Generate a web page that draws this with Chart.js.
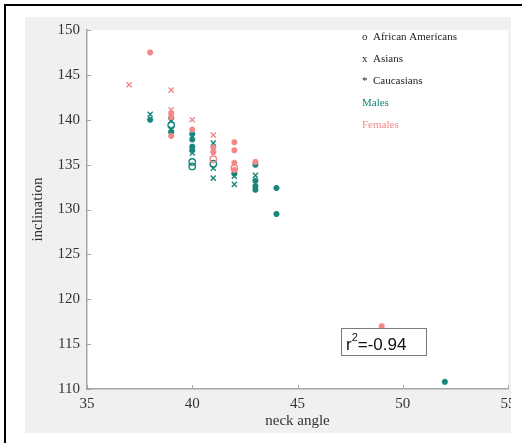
<!DOCTYPE html>
<html>
<head>
<meta charset="utf-8">
<script src="https://cdn.jsdelivr.net/npm/chart.js@4"></script>
<style>
body { margin:0; background:#fff; }
</style>
</head>
<body>
<canvas id="neck_chart" width="522" height="443"></canvas>
<script>
// males (teal)
let maleAfrX = [39, 40, 40, 41];
let maleAfrY = [139.4, 135.3, 134.8, 135.1];
let maleAsiX = [38, 39, 39, 40, 41, 41, 41, 42, 42, 43];
let maleAsiY = [140.6, 139.9, 139.0, 136.3, 137.4, 134.6, 133.5, 133.7, 132.8, 133.8];
let maleCauX = [38, 39, 39, 40, 40, 40, 40, 42, 43, 43, 43, 43, 44, 44, 52];
let maleCauY = [140.0, 140.2, 138.6, 138.4, 137.8, 137.0, 136.6, 134.0, 135.0, 133.2, 132.6, 132.2, 132.4, 129.5, 110.8];
// females (pink)
let femAfrX = [41, 42];
let femAfrY = [135.6, 134.6];
let femAsiX = [37, 39, 39, 40, 41];
let femAsiY = [143.9, 143.3, 141.1, 140.0, 138.3];
let femCauX = [38, 39, 39, 39, 40, 41, 41, 42, 42, 42, 42, 43, 49];
let femCauY = [147.5, 140.7, 140.3, 138.2, 138.9, 136.9, 136.4, 137.5, 136.6, 135.2, 134.4, 135.3, 117.0];

let xTicks = [35, 40, 45, 50, 55];
let yTicks = [110, 115, 120, 125, 130, 135, 140, 145, 150];
let legendItems = ["o  African Americans", "x  Asians", "*  Caucasians", "Males", "Females"];
let rText = "-0.94";

let teal = "#17867d";
let pink = "#f28888";
let serif = "'Liberation Serif', 'Times New Roman', serif";

function pts(xs, ys){
    let arr = new Array();
    for(let i=0; i<xs.length; i++){
        arr.push({x:xs[i], y:ys[i]});
    }
    return arr;
}

function ds(label, xs, ys, color, style){
    return {
        label:label,
        data:pts(xs, ys),
        pointStyle:style,
        pointRadius: style == "circle" ? 3.2 : (style == "star" ? 3 : 3.6),
        borderColor:color,
        backgroundColor: style == "star" ? color : "rgba(0,0,0,0)",
        pointBorderWidth: style == "star" ? 2 : 1.4
    };
}

let framePlugin = {
    id:"frame",
    beforeDraw:function(chart){
        let ctx = chart.ctx;
        let a = chart.chartArea;
        ctx.save();
        ctx.fillStyle = "#ffffff";
        ctx.fillRect(0, 0, chart.width, chart.height);
        ctx.fillStyle = "#f0f0f0";
        ctx.fillRect(25, 17, 486, 416);
        ctx.fillStyle = "#ffffff";
        ctx.fillRect(a.left, a.top, a.right - a.left, a.bottom - a.top);
        ctx.strokeStyle = "#000";
        ctx.lineWidth = 2;
        ctx.beginPath();
        ctx.moveTo(4, 5); ctx.lineTo(522, 5);
        ctx.moveTo(5, 4); ctx.lineTo(5, 443);
        ctx.stroke();
        ctx.restore();
    },
    afterDraw:function(chart){
        let ctx = chart.ctx;
        let a = chart.chartArea;
        let xs = chart.scales.x;
        let ys = chart.scales.y;
        ctx.save();
        // inward ticks
        ctx.strokeStyle = "#a6a6a6";
        ctx.lineWidth = 1;
        ctx.beginPath();
        for(let i=0; i<yTicks.length; i++){
            let py = Math.round(ys.getPixelForValue(yTicks[i])) + 0.5;
            ctx.moveTo(a.left, py); ctx.lineTo(a.left + 4, py);
        }
        for(let i=0; i<xTicks.length; i++){
            let px = Math.round(xs.getPixelForValue(xTicks[i])) + 0.5;
            ctx.moveTo(px, a.bottom); ctx.lineTo(px, a.bottom - 4);
        }
        ctx.stroke();
        // clip right side
        ctx.fillStyle = "#ffffff";
        ctx.fillRect(511, 17, 11, 426);
        // legend text
        ctx.font = "11px " + serif;
        ctx.textBaseline = "middle";
        let colors = ["#222", "#222", "#222", teal, pink];
        for(let i=0; i<legendItems.length; i++){
            ctx.fillStyle = colors[i];
            ctx.fillText(legendItems[i], 362, 37 + i*22);
        }
        // r^2 box
        ctx.fillStyle = "#fff";
        ctx.fillRect(341, 328, 85, 27);
        ctx.strokeStyle = "#7a7a7a";
        ctx.strokeRect(341.5, 328.5, 85, 27);
        ctx.fillStyle = "#111";
        ctx.textBaseline = "alphabetic";
        ctx.font = "17px 'Liberation Sans', Arial, sans-serif";
        ctx.fillText("r", 346, 350);
        let rw = ctx.measureText("r").width;
        ctx.font = "11px 'Liberation Sans', Arial, sans-serif";
        ctx.fillText("2", 346 + rw, 341);
        let sw = ctx.measureText("2").width;
        ctx.font = "17px 'Liberation Sans', Arial, sans-serif";
        ctx.fillText("=" + rText, 346 + rw + sw, 350);
        ctx.restore();
    }
};

let neckChart = new Chart(document.getElementById("neck_chart"), {
    type:"scatter",
    plugins:[framePlugin],
    data:{
        datasets:[
            ds("Females African Americans", femAfrX, femAfrY, pink, "circle"),
            ds("Females Asians", femAsiX, femAsiY, pink, "crossRot"),
            ds("Females Caucasians", femCauX, femCauY, pink, "star"),
            ds("Males African Americans", maleAfrX, maleAfrY, teal, "circle"),
            ds("Males Asians", maleAsiX, maleAsiY, teal, "crossRot"),
            ds("Males Caucasians", maleCauX, maleCauY, teal, "star")
        ]
    },
    options:{
        responsive:false,
        animation:false,
        devicePixelRatio:1,
        layout:{padding:{left:25, top:30, right:14, bottom:10}},
        plugins:{legend:{display:false}, tooltip:{enabled:false}},
        scales:{
            x:{
                type:"linear",
                min:35, max:55,
                afterFit:function(s){ s.height = 44; },
                afterBuildTicks:function(s){ s.ticks = xTicks.map(function(v){ return {value:v}; }); },
                grid:{drawOnChartArea:false, drawTicks:false},
                border:{color:"#a6a6a6", width:1.5},
                ticks:{padding:6, color:"#333", font:{family:serif, size:15}},
                title:{display:true, text:"neck angle", color:"#333", font:{family:serif, size:15}, padding:{top:0, bottom:3}}
            },
            y:{
                type:"linear",
                min:110, max:150,
                afterFit:function(s){ s.width = 62; },
                afterBuildTicks:function(s){ s.ticks = yTicks.map(function(v){ return {value:v}; }); },
                grid:{drawOnChartArea:false, drawTicks:false},
                border:{color:"#a6a6a6", width:1.5},
                ticks:{padding:7, color:"#333", font:{family:serif, size:15}},
                title:{display:true, text:"inclination", color:"#333", font:{family:serif, size:15}, padding:{top:4, bottom:0}}
            }
        }
    }
});
</script>
</body>
</html>
